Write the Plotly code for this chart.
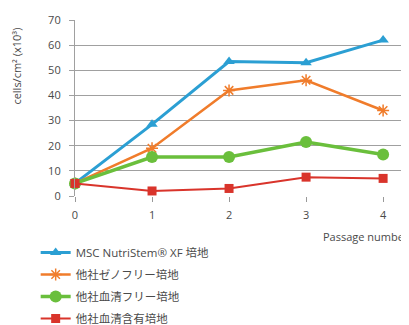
import plotly.graph_objects as go

passages = [0, 1, 2, 3, 4]
nutristem = [5, 28.5, 53.5, 53, 62]
xeno_free = [5, 19, 42, 46, 34]
serum_free = [5, 15.5, 15.5, 21.5, 16.5]
serum = [5, 2, 3, 7.5, 7]
names = ["MSC NutriStem\u00ae XF 培地", "他社ゼノフリー培地", "他社血清フリー培地", "他社血清含有培地"]
y_ticks = [0, 10, 20, 30, 40, 50, 60, 70]

FONT = "Open Sans, Noto Sans CJK JP, sans-serif"
TXT = "#4a4a4a"

fig = go.Figure()
specs = [
    (nutristem, "#2b9fd3", 3, dict(symbol="triangle-up", size=10)),
    (xeno_free, "#f07c2b", 2.5, dict(symbol="asterisk-open", size=10, line=dict(width=1.5, color="#f07c2b"))),
    (serum_free, "#6abf3c", 3.5, dict(symbol="circle", size=12)),
    (serum, "#d9342b", 2, dict(symbol="square", size=9)),
]
for i, (vals, col, lw, mk) in enumerate(specs):
    mk = dict(mk)
    mk["color"] = col
    fig.add_trace(go.Scatter(
        x=passages, y=vals, name=names[i], mode="lines+markers",
        line=dict(color=col, width=lw), marker=mk, cliponaxis=False,
        legendgroup=f"g{i}",
    ))

fig.update_layout(
    width=409, height=325,
    margin=dict(l=67, r=0, t=12, b=128),
    paper_bgcolor="white", plot_bgcolor="white",
    font=dict(family=FONT, color=TXT, size=11),
    showlegend=True,
    legend=dict(x=-0.115, y=-0.24, xanchor="left", yanchor="top",
                font=dict(size=11.5, color=TXT), tracegroupgap=3,
                bgcolor="rgba(0,0,0,0)", itemwidth=30),
    xaxis=dict(range=[0, 4.44], tickvals=passages, showgrid=False, zeroline=False,
               ticks="outside", ticklen=5, tickcolor="#999", showline=False,
               tickfont=dict(size=11, color=TXT), ticklabelstandoff=4),
    yaxis=dict(range=[0, 70], tickvals=y_ticks, showgrid=True, gridcolor="#a0a0a0",
               gridwidth=1.2, zeroline=False, showline=True, linecolor="#a0a0a0",
               linewidth=1.2, ticks="outside", ticklen=5, tickcolor="#a0a0a0",
               tickfont=dict(size=11, color=TXT), ticklabelstandoff=6),
)
fig.add_annotation(text="cells/cm\u00b2 (x10\u00b3)", xref="paper", yref="paper",
                   x=-0.17, y=0.74, xanchor="center", yanchor="middle",
                   textangle=-90, showarrow=False, font=dict(size=11, color=TXT))
fig.add_annotation(text="Passage number", xref="paper", yref="paper",
                   x=0.72, y=-0.23, xanchor="left", yanchor="middle",
                   showarrow=False, font=dict(size=11, color=TXT))
fig.write_html("out.html")
